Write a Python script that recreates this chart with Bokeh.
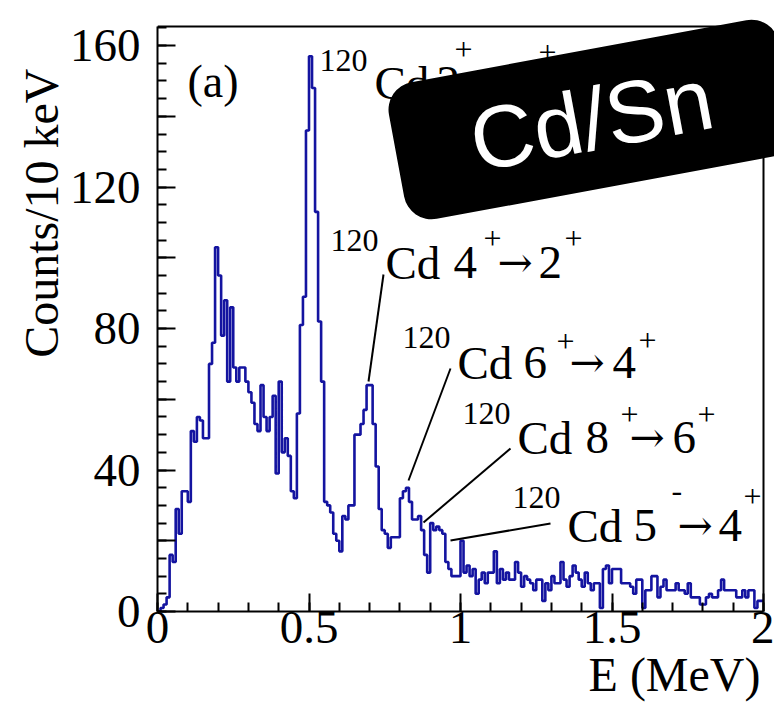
from bokeh.plotting import figure
from bokeh.models import Label, FixedTicker, Range1d, Title
from bokeh.embed import file_html
from bokeh.resources import INLINE

# ---------------- data ----------------
bin_width = 0.01  # MeV (10 keV)
counts = [
    0, 1, 2, 4, 16, 14, 29, 22, 34, 34,
    31, 51, 48, 55, 54, 49, 49, 70, 76, 103,
    95, 78, 88, 65, 86, 69, 65, 69, 69, 65,
    62, 59, 53, 51, 64, 55, 51, 55, 61, 39,
    65, 45, 49, 44, 34, 32, 56, 81, 89, 136,
    157, 148, 113, 82, 65, 31, 30, 28, 22, 20,
    17, 27, 26, 30, 30, 50, 50, 53, 57, 64,
    64, 53, 41, 29, 23, 22, 18, 21, 21, 21,
    32, 34, 35, 31, 26, 26, 27, 23, 16, 11,
    25, 23, 24, 23, 22, 14, 12, 10, 10, 10,
    20, 11, 13, 10, 12, 5, 9, 11, 8, 11,
    11, 17, 8, 12, 9, 11, 9, 9, 14, 11,
    7, 10, 9, 8, 6, 9, 9, 3, 8, 6,
    10, 8, 8, 14, 9, 7, 10, 13, 11, 9,
    7, 11, 8, 6, 8, 8, 1, 12, 13, 8,
    12, 12, 12, 8, 8, 8, 7, 5, 9, 9,
    1, 6, 6, 10, 10, 4, 7, 9, 6, 6,
    6, 8, 6, 6, 5, 8, 4, 4, 4, 2,
    2, 4, 5, 4, 4, 6, 9, 6, 6, 6,
    6, 4, 4, 6, 4, 6, 6, 1, 3, 3,
]

x_axis_range = [0.0, 2.0]
y_axis_range = [0.0, 165.4]
x_major_ticks = [0.0, 0.5, 1.0, 1.5, 2.0]
x_major_labels = ["0", "0.5", "1", "1.5", "2"]
x_minor_ticks = [i / 10 for i in range(21)]
y_major_ticks = [0, 20, 40, 60, 80, 100, 120, 140, 160]
y_labelled_ticks = [0, 40, 80, 120, 160]
y_minor_ticks = list(range(0, 166, 5))

x_title = "E (MeV)"
y_title = "Counts/10 keV"
panel_tag = "(a)"
badge_text = "Cd/Sn"

# transitions: (mass, parent level, parent parity, daughter level, daughter parity)
transitions = [
    ("120", "2", "+", "0", "+"),
    ("120", "4", "+", "2", "+"),
    ("120", "6", "+", "4", "+"),
    ("120", "8", "+", "6", "+"),
    ("120", "5", "-", "4", "+"),
]

# ---------------- geometry ----------------
W, H = 774, 713
AX_L, AX_R, AX_T, AX_B = 157, 763, 26, 611   # visible axes box (pixels)
sx = (AX_R - AX_L) / (x_axis_range[1] - x_axis_range[0])
sy = (AX_B - AX_T) / (y_axis_range[1] - y_axis_range[0])
# the drawing frame spans up to the canvas top and right edge so the badge is not clipped
x_hi = x_axis_range[1] + (W - AX_R) / sx
y_hi = y_axis_range[1] + AX_T / sy


def dx(px):
    return x_axis_range[0] + (px - AX_L) / sx


def dy(py):
    return y_axis_range[0] + (AX_B - py) / sy


p = figure(width=W, height=H, output_backend="svg", toolbar_location=None,
           x_range=Range1d(x_axis_range[0], x_hi), y_range=Range1d(y_axis_range[0], y_hi),
           min_border_left=AX_L, min_border_right=0,
           min_border_top=0, min_border_bottom=H - AX_B)
p.background_fill_color = "white"
p.border_fill_color = "white"
p.xgrid.visible = False
p.ygrid.visible = False
p.outline_line_color = None

# histogram outline
edges = [x_axis_range[0] + i * bin_width for i in range(len(counts) + 1)]
p.step(x=edges, y=counts + [counts[-1]], mode="after",
       line_color="#1414a0", line_width=2.6)

# top and right frame edges
p.segment(x0=[x_axis_range[0], x_axis_range[1]], y0=[y_axis_range[1], y_axis_range[0]],
          x1=[x_axis_range[1], x_axis_range[1]], y1=[y_axis_range[1], y_axis_range[1]],
          line_color="black", line_width=2)

SERIF = "Liberation Serif"
for ax in (p.xaxis[0], p.yaxis[0]):
    ax.axis_line_width = 2
    ax.axis_line_color = "black"
    ax.major_tick_line_width = 2
    ax.minor_tick_line_width = 2
    ax.major_tick_out = 0
    ax.minor_tick_out = 0
    ax.major_tick_in = 18
    ax.minor_tick_in = 9
    ax.major_label_text_font = SERIF
    ax.major_label_text_font_size = "47px"
    ax.major_label_text_color = "black"

p.xaxis.bounds = tuple(x_axis_range)
p.yaxis.bounds = tuple(y_axis_range)
p.xaxis.ticker = FixedTicker(ticks=x_major_ticks, minor_ticks=x_minor_ticks)
p.xaxis.major_label_overrides = {t: l for t, l in zip(x_major_ticks, x_major_labels)}
p.xaxis.major_label_standoff = 0
p.yaxis.ticker = FixedTicker(ticks=y_major_ticks, minor_ticks=y_minor_ticks)
p.yaxis.major_label_overrides = {t: (str(t) if t in y_labelled_ticks else "") for t in y_major_ticks}
p.yaxis.major_label_standoff = 17

# axis titles (end-aligned, ROOT style)
p.add_layout(Title(text=x_title, align="right", offset=W - 760, standoff=0,
                   text_font=SERIF, text_font_size="48px", text_font_style="normal",
                   text_color="black"), "below")
p.add_layout(Title(text=y_title, align="right", offset=68, standoff=-3,
                   text_font=SERIF, text_font_size="48px", text_font_style="normal",
                   text_color="black"), "left")


def text(px, py, s, size, align="left", baseline="alphabetic", angle=0,
         font=SERIF, color="black", **kw):
    lab = Label(x=dx(px), y=dy(py), text=s, text_font=font,
                text_font_size=f"{size}px", text_align=align,
                text_baseline=baseline, angle=angle, angle_units="deg",
                text_color=color, **kw)
    p.add_layout(lab)
    return lab


text(187, 81, panel_tag, 46)

# annotations: (Cd x start, main baseline, mass raise, parent-parity raise,
#               daughter-parity raise, horizontal offsets)
MAIN, SUP = 47, 32
layouts = [
    (374, 82, 22, 33, 30, (62, 80, 97, 138, 164)),
    (385, 262, 22, 24, 24, (68, 98, 112, 153, 179)),
    (457, 362, 25, 21, 22, (66, 99, 112, 155, 181)),
    (517, 437, 24, 23, 23, (68, 103, 112, 155, 180)),
    (567, 525, 28, 35, 29, (66, 104, 110, 151, 176)),
]
for (mass, jp, pp, jd, pd), (x0, base, r_m, r_p, r_d, off) in zip(transitions, layouts):
    text(x0 - 7, base - r_m, mass, SUP, align="right")
    text(x0, base, "Cd", MAIN)
    text(x0 + off[0], base, jp, MAIN)
    text(x0 + off[1], base - r_p, pp, SUP)
    text(x0 + off[2], base, "\u2192", 42, font="DejaVu Serif")
    text(x0 + off[3], base, jd, MAIN)
    text(x0 + off[4], base - r_d, pd, SUP)

# leader lines (pixel endpoints of the pointer lines)
leaders = [
    ((383, 274), (368, 381)),
    ((450, 368), (408, 480)),
    ((510, 448), (423, 522)),
    ((550, 523), (450, 540)),
]
p.segment(x0=[dx(a[0]) for a, b in leaders], y0=[dy(a[1]) for a, b in leaders],
          x1=[dx(b[0]) for a, b in leaders], y1=[dy(b[1]) for a, b in leaders],
          line_color="black", line_width=2)

# rotated black badge on top
text(591, 119, badge_text, 88, align="center", baseline="middle", angle=10.5,
     font="Liberation Sans", color="white",
     background_fill_color="black", background_fill_alpha=1.0,
     border_radius=28, padding=dict(left=76, right=76, top=20, bottom=20))

open("out.html", "w").write(file_html(p, INLINE))
